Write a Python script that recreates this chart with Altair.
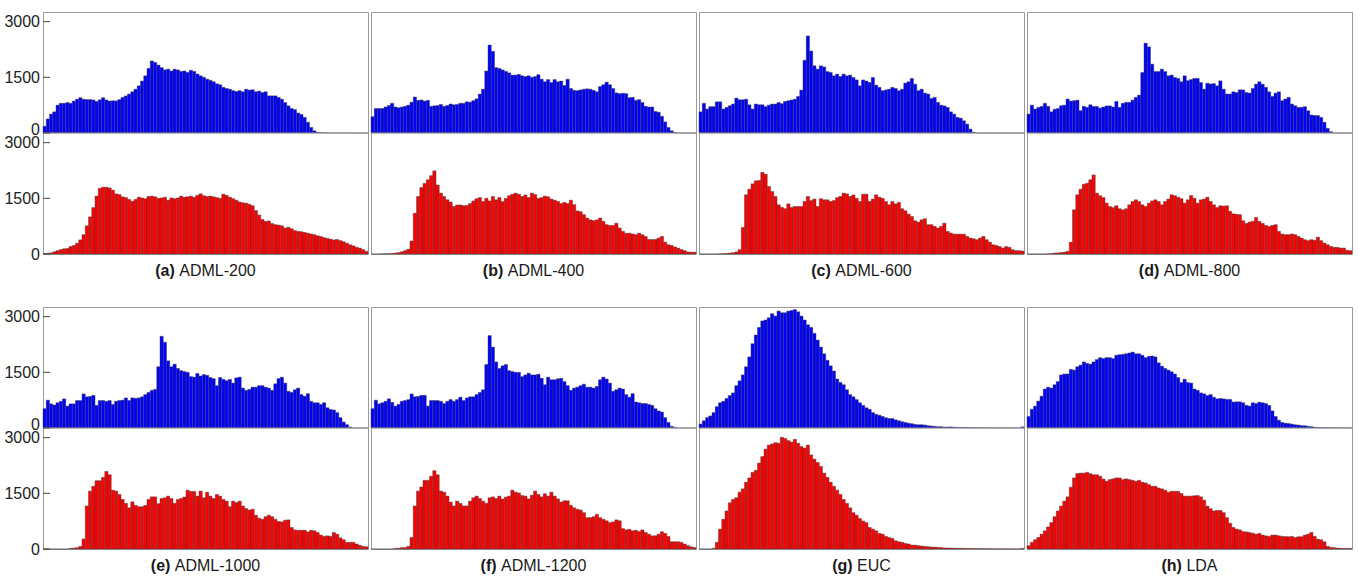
import altair as alt
import pandas as pd

# ---------------- data (counts per bin, 100 bins per histogram) ----------------
a_blue = [180, 380, 510, 570, 750, 800, 800, 820, 800, 860,
          910, 950, 910, 900, 900, 890, 850, 895, 950, 890,
          860, 870, 865, 900, 960, 1000, 1050, 1110, 1180, 1270,
          1400, 1540, 1740, 1940, 1900, 1830, 1760, 1700, 1720, 1670,
          1720, 1700, 1660, 1670, 1630, 1690, 1660, 1590, 1540, 1500,
          1450, 1420, 1380, 1325, 1300, 1230, 1200, 1180, 1140, 1120,
          1140, 1110, 1180, 1155, 1165, 1110, 1130, 1090, 1110, 1000,
          1000, 1000, 960, 910, 820, 730, 660, 630, 540, 500,
          420, 290, 150, 60, 20, 10, 5, 3, 2, 1,
          1, 1, 1, 0, 0, 0, 0, 0, 0, 0]
a_red = [10, 20, 30, 60, 90, 120, 140, 150, 200, 230,
         290, 380, 520, 760, 1000, 1250, 1560, 1770, 1800, 1800,
         1780, 1720, 1620, 1600, 1540, 1520, 1470, 1420, 1470, 1530,
         1510, 1490, 1550, 1560, 1540, 1500, 1510, 1530, 1450, 1510,
         1490, 1510, 1560, 1530, 1540, 1560, 1530, 1580, 1620, 1570,
         1550, 1560, 1540, 1520, 1500, 1610, 1580, 1530, 1490, 1450,
         1400, 1380, 1370, 1340, 1300, 1170, 1050, 930, 880, 890,
         820, 790, 780, 760, 700, 720, 680, 630, 610, 600,
         580, 560, 540, 520, 490, 470, 440, 420, 400, 380,
         390, 360, 330, 290, 250, 220, 180, 160, 120, 70]
b_blue = [440, 660, 660, 660, 700, 740, 800, 700, 680, 700,
          720, 750, 830, 970, 880, 890, 860, 880, 720, 730,
          740, 770, 720, 740, 780, 760, 770, 800, 800, 840,
          830, 870, 920, 1050, 1180, 1670, 2370, 2200, 1760, 1740,
          1700, 1660, 1620, 1560, 1560, 1580, 1540, 1520, 1540, 1500,
          1520, 1570, 1450, 1380, 1440, 1360, 1440, 1380, 1400, 1280,
          1450, 1200, 1150, 1140, 1160, 1180, 1190, 1180, 1150, 1110,
          1250, 1300, 1370, 1300, 1200, 1080, 1060, 1070, 1060, 950,
          960, 880, 900, 820, 720, 700, 700, 580, 560, 450,
          300, 150, 60, 15, 0, 0, 0, 0, 0, 0]
b_red = [0, 0, 0, 5, 8, 10, 15, 25, 35, 60,
         90, 130, 350, 1100, 1550, 1790, 1900, 2000, 2110, 2240,
         1860, 1640, 1550, 1460, 1400, 1280, 1320, 1320, 1300, 1310,
         1360, 1430, 1490, 1520, 1415, 1500, 1430, 1550, 1460, 1520,
         1410, 1500, 1570, 1610, 1640, 1610, 1550, 1590, 1520, 1640,
         1600, 1500, 1520, 1560, 1540, 1480, 1450, 1420, 1360, 1390,
         1360, 1450, 1330, 1160, 1140, 1060, 970, 920, 900, 920,
         970, 880, 790, 770, 770, 830, 700, 610, 560, 560,
         540, 520, 560, 520, 470, 390, 390, 390, 430, 475,
         320, 250, 230, 190, 160, 120, 90, 55, 50, 50]
c_blue = [570, 800, 645, 710, 710, 840, 840, 645, 690, 735,
          780, 940, 895, 895, 910, 760, 645, 780, 760, 760,
          710, 750, 780, 780, 820, 790, 850, 870, 890, 910,
          985, 1155, 1960, 2615, 2210, 1810, 1720, 1810, 1780, 1655,
          1630, 1540, 1585, 1520, 1585, 1540, 1560, 1495, 1430, 1270,
          1430, 1400, 1360, 1495, 1290, 1230, 1140, 1160, 1180, 1230,
          1200, 1140, 1180, 1345, 1380, 1470, 1315, 1140, 1180, 1075,
          1050, 930, 960, 825, 750, 730, 690, 570, 510, 420,
          400, 330, 240, 105, 20, 0, 0, 0, 0, 0,
          0, 0, 0, 0, 0, 0, 0, 0, 0, 0]
c_red = [0, 0, 0, 0, 0, 0, 5, 10, 15, 25,
         35, 55, 115, 715, 1595, 1745, 1890, 1970, 1980, 2200,
         2150, 1820, 1685, 1550, 1325, 1255, 1220, 1350, 1255, 1280,
         1280, 1280, 1415, 1550, 1440, 1480, 1280, 1490, 1460, 1460,
         1415, 1440, 1520, 1550, 1640, 1620, 1550, 1590, 1500, 1415,
         1610, 1610, 1415, 1480, 1595, 1530, 1500, 1415, 1325, 1415,
         1350, 1390, 1220, 1165, 1075, 1010, 895, 860, 920, 950,
         790, 790, 745, 700, 745, 830, 610, 565, 535, 535,
         535, 535, 475, 430, 410, 385, 430, 475, 385, 320,
         250, 230, 200, 160, 200, 180, 115, 90, 90, 80]
d_blue = [510, 750, 645, 690, 715, 800, 720, 570, 640, 660,
          735, 750, 915, 860, 870, 885, 600, 720, 690, 760,
          715, 715, 670, 700, 730, 730, 700, 850, 690, 800,
          825, 825, 885, 960, 1020, 1630, 2420, 2320, 1855, 1655,
          1655, 1720, 1655, 1540, 1560, 1495, 1470, 1380, 1540, 1410,
          1440, 1470, 1470, 1360, 1180, 1340, 1320, 1330, 1270, 1405,
          1180, 1050, 1050, 1110, 1090, 1165, 1160, 1090, 1075, 1200,
          1315, 1380, 1315, 1230, 1110, 985, 1075, 1110, 870, 915,
          960, 780, 735, 690, 690, 710, 600, 485, 470, 470,
          420, 290, 125, 35, 0, 0, 0, 0, 0, 0]
d_red = [0, 0, 0, 0, 0, 0, 5, 10, 25, 30,
         40, 50, 70, 320, 1190, 1595, 1745, 1880, 1905, 2000,
         2130, 1640, 1570, 1520, 1370, 1280, 1250, 1300, 1220, 1190,
         1220, 1325, 1415, 1460, 1415, 1325, 1280, 1370, 1430, 1460,
         1415, 1325, 1415, 1480, 1595, 1570, 1530, 1490, 1370, 1460,
         1575, 1500, 1370, 1460, 1480, 1530, 1415, 1325, 1250, 1300,
         1290, 1300, 1150, 1080, 1070, 1060, 895, 825, 860, 880,
         985, 880, 825, 770, 740, 770, 790, 610, 540, 520,
         520, 540, 520, 475, 430, 385, 360, 385, 370, 455,
         360, 295, 250, 205, 180, 180, 160, 160, 100, 90]
e_blue = [520, 750, 650, 620, 680, 720, 785, 590, 650, 650,
          740, 740, 917, 840, 850, 880, 610, 740, 740, 720,
          740, 635, 720, 740, 750, 810, 740, 810, 800, 810,
          840, 900, 960, 1015, 1040, 1650, 2470, 2310, 1810, 1650,
          1720, 1605, 1545, 1520, 1500, 1385, 1370, 1470, 1400, 1440,
          1420, 1360, 1330, 1140, 1360, 1310, 1275, 1310, 1210, 1350,
          1370, 1075, 1015, 1040, 1100, 1100, 1140, 1140, 1100, 1075,
          1015, 1190, 1330, 1370, 1210, 990, 960, 1030, 1075, 900,
          855, 925, 720, 680, 680, 635, 680, 545, 500, 485,
          415, 280, 160, 90, 25, 0, 0, 0, 0, 0]
e_red = [0, 0, 0, 0, 0, 0, 0, 0, 18, 25,
         35, 70, 270, 1160, 1560, 1690, 1840, 1840, 1930, 2090,
         2000, 1585, 1560, 1470, 1335, 1230, 1110, 1270, 1175, 1140,
         1140, 1175, 1335, 1405, 1405, 1220, 1360, 1380, 1425, 1360,
         1230, 1335, 1360, 1400, 1585, 1550, 1550, 1425, 1560, 1380,
         1530, 1425, 1360, 1470, 1425, 1335, 1290, 1140, 1290, 1250,
         1290, 1160, 1090, 1050, 1070, 910, 830, 800, 870, 910,
         870, 800, 740, 730, 775, 785, 580, 515, 505, 505,
         505, 460, 505, 490, 445, 375, 340, 355, 340, 445,
         400, 300, 250, 180, 180, 180, 135, 100, 70, 60]
f_blue = [520, 750, 650, 680, 720, 785, 690, 590, 635, 720,
          740, 765, 917, 840, 850, 880, 880, 590, 740, 740,
          740, 720, 660, 720, 765, 720, 765, 830, 740, 810,
          840, 840, 900, 960, 1030, 1710, 2490, 2180, 1780, 1605,
          1675, 1710, 1545, 1520, 1500, 1500, 1385, 1430, 1475, 1430,
          1430, 1450, 1340, 1165, 1370, 1300, 1300, 1325, 1340, 1250,
          1140, 1015, 1075, 1100, 1140, 1180, 1100, 1100, 1075, 1120,
          1300, 1370, 1320, 1210, 990, 1030, 1075, 1050, 900, 830,
          925, 700, 680, 660, 660, 635, 610, 520, 460, 430,
          280, 150, 45, 18, 0, 0, 0, 0, 0, 0]
f_red = [0, 0, 0, 0, 0, 0, 0, 15, 20, 35,
         40, 70, 310, 1160, 1560, 1670, 1850, 1850, 1960, 2110,
         2000, 1560, 1530, 1425, 1265, 1160, 1290, 1230, 1160, 1160,
         1290, 1380, 1425, 1360, 1290, 1230, 1380, 1405, 1360, 1425,
         1345, 1400, 1425, 1585, 1530, 1510, 1440, 1425, 1350, 1450,
         1560, 1470, 1405, 1490, 1425, 1530, 1425, 1350, 1265, 1300,
         1300, 1175, 1110, 1070, 1050, 980, 845, 845, 870, 935,
         845, 800, 760, 710, 730, 785, 760, 550, 515, 530,
         490, 505, 470, 515, 445, 400, 355, 355, 400, 465,
         420, 340, 195, 195, 195, 180, 135, 90, 60, 40]
g_blue = [105, 195, 280, 325, 415, 575, 680, 720, 795, 875,
          945, 1140, 1270, 1430, 1650, 1915, 2270, 2505, 2710, 2885,
          2910, 2970, 3080, 3015, 3150, 3105, 3105, 3150, 3165, 3190,
          3130, 3015, 2910, 2780, 2710, 2550, 2370, 2180, 2000, 1825,
          1675, 1535, 1320, 1225, 1165, 1030, 900, 840, 765, 680,
          610, 545, 505, 415, 370, 345, 310, 275, 255, 255,
          220, 195, 170, 150, 130, 115, 97, 88, 88, 80,
          62, 53, 45, 35, 35, 26, 26, 30, 20, 18,
          15, 14, 12, 10, 10, 8, 8, 7, 6, 5,
          5, 4, 4, 3, 3, 3, 2, 2, 2, 30]
g_red = [0, 0, 0, 0, 18, 180, 535, 800, 1025, 1245,
         1335, 1380, 1530, 1620, 1800, 1915, 2065, 2120, 2315, 2490,
         2690, 2800, 2830, 2865, 2850, 3010, 2980, 2920, 2880, 2955,
         2850, 2760, 2720, 2800, 2535, 2420, 2330, 2225, 2045, 1930,
         1800, 1690, 1585, 1470, 1335, 1230, 1110, 980, 910, 820,
         755, 710, 580, 535, 490, 420, 400, 340, 310, 285,
         220, 195, 180, 150, 135, 105, 105, 90, 80, 70,
         62, 53, 50, 45, 40, 27, 27, 25, 22, 20,
         18, 16, 15, 14, 12, 10, 10, 9, 8, 7,
         6, 6, 5, 5, 4, 4, 4, 3, 3, 15]
h_blue = [310, 505, 590, 725, 855, 1050, 1100, 1075, 1165, 1250,
          1430, 1455, 1455, 1580, 1560, 1650, 1695, 1780, 1740, 1720,
          1780, 1845, 1895, 1870, 1895, 1895, 1870, 1960, 1975, 1985,
          2000, 2020, 2045, 2000, 2000, 1960, 1895, 1930, 1940, 1915,
          1755, 1665, 1605, 1560, 1515, 1455, 1360, 1225, 1315, 1225,
          1210, 1050, 1015, 945, 920, 875, 900, 830, 785, 795,
          785, 770, 770, 700, 705, 705, 680, 610, 590, 680,
          660, 695, 680, 660, 610, 460, 310, 210, 150, 130,
          120, 105, 88, 80, 62, 62, 45, 35, 20, 15,
          12, 10, 8, 7, 6, 5, 5, 4, 3, 3]
h_red = [90, 180, 250, 310, 400, 490, 595, 710, 870, 1025,
         1155, 1290, 1405, 1665, 1915, 2030, 2045, 2045, 2065, 2030,
         2000, 2000, 1960, 1885, 1825, 1870, 1890, 1915, 1915, 1870,
         1890, 1870, 1850, 1825, 1850, 1800, 1780, 1735, 1690, 1690,
         1645, 1620, 1585, 1530, 1555, 1555, 1555, 1495, 1425, 1425,
         1425, 1435, 1440, 1405, 1315, 1155, 1085, 1025, 1040, 1040,
         980, 845, 695, 580, 535, 515, 470, 460, 445, 425,
         400, 420, 375, 355, 340, 375, 375, 355, 340, 335,
         330, 340, 310, 330, 330, 375, 400, 445, 340, 265,
         250, 195, 70, 45, 35, 25, 18, 18, 15, 15]

panel_tags = ["(a)", "(b)", "(c)", "(d)", "(e)", "(f)", "(g)", "(h)"]
panel_names = ["ADML-200", "ADML-400", "ADML-600", "ADML-800",
               "ADML-1000", "ADML-1200", "EUC", "LDA"]
blue_series = [a_blue, b_blue, c_blue, d_blue, e_blue, f_blue, g_blue, h_blue]
red_series = [a_red, b_red, c_red, d_red, e_red, f_red, g_red, h_red]
tick_values = [0, 1500, 3000]

# ---------------- styling ----------------
FONT = "Liberation Sans"
W = 325
HALF = 121           # pixel height of each of the two stacked histograms
YMAX = 3260          # count shown by one half's full height
BLUE = "#0000ff"
RED = "#ff0000"
FRAME = "#9a9a9a"
FS = 16

# Arial / Liberation Sans advance widths (per 1000 em) for caption centring
REG = {' ': 278, '(': 333, ')': 333, '-': 333, 'A': 667, 'D': 722, 'M': 833,
       'L': 556, 'E': 667, 'U': 722, 'C': 722}
for ch in "0123456789":
    REG[ch] = 556
BOLD = {'(': 333, ')': 333, 'a': 556, 'b': 611, 'c': 556, 'd': 611, 'e': 556,
        'f': 333, 'g': 611, 'h': 611}


def text_w(s, table):
    return sum(table.get(c, 556) for c in s) * FS / 1000.0


# both halves share one y scale: the blue histogram sits on top of the red one
axis_vals = tick_values + [YMAX + v for v in tick_values]
label_expr = "'' + (datum.value >= %d ? datum.value - %d : datum.value)" % (YMAX, YMAX)
yscale = alt.Scale(domain=[0, 2 * YMAX], nice=False, zero=True)


def panel(i):
    first_col = (i % 4 == 0)
    if first_col:
        yaxis = alt.Axis(values=axis_vals, labelExpr=label_expr, ticks=False,
                         domain=False, grid=False, labelFontSize=FS,
                         labelFont=FONT, labelColor="#222222", labelPadding=3.5,
                         labelOffset={"condition": {"test": "datum.value == %d" % YMAX,
                                                    "value": -4},
                                      "value": 0},
                         labelFlush=False, labelOverlap=False, title=None)
    else:
        yaxis = None
    xenc = alt.X("bin:O", axis=None, scale=alt.Scale(paddingInner=0, paddingOuter=0))

    bl = blue_series[i]
    rd = red_series[i]
    df_b = pd.DataFrame({"bin": list(range(len(bl))),
                         "lo": [YMAX] * len(bl),
                         "hi": [YMAX + v for v in bl]})
    df_r = pd.DataFrame({"bin": list(range(len(rd))),
                         "lo": [0] * len(rd),
                         "hi": rd})
    bar_style = dict(stroke="#404040", strokeWidth=0.5, strokeOpacity=0.9)
    blue = alt.Chart(df_b).mark_bar(color=BLUE, **bar_style).encode(
        x=xenc, y=alt.Y("hi:Q", axis=yaxis, scale=yscale), y2="lo:Q")
    red = alt.Chart(df_r).mark_bar(color=RED, **bar_style).encode(
        x=xenc, y=alt.Y("hi:Q", axis=yaxis, scale=yscale), y2="lo:Q")

    sep = alt.Chart(pd.DataFrame({"hi": [YMAX]})).mark_rule(
        color=FRAME, strokeWidth=1).encode(
        y=alt.Y("hi:Q", axis=yaxis, scale=yscale),
        x=alt.value(0), x2=alt.value(W))
    layers = [blue, red, sep]

    if first_col:
        tdf = pd.DataFrame({"hi": axis_vals})
        ticks = alt.Chart(tdf).mark_rule(color="#444444", strokeWidth=1).encode(
            y=alt.Y("hi:Q", axis=yaxis, scale=yscale),
            x=alt.value(0), x2=alt.value(7))
        layers.append(ticks)

    tag, name = panel_tags[i], panel_names[i]
    wb = text_w(tag, BOLD)
    ws = text_w(" ", REG)
    wr = text_w(name, REG)
    start = W / 2.0 - (wb + ws + wr) / 2.0
    one = pd.DataFrame({"k": [0]})
    cy = 2 * HALF + 16.5
    t1 = alt.Chart(one).mark_text(
        text=tag, align="left", baseline="middle", font=FONT,
        fontSize=FS, fontWeight="bold", color="#1a1a1a"
    ).encode(x=alt.value(start), y=alt.value(cy))
    t2 = alt.Chart(one).mark_text(
        text=name, align="left", baseline="middle", font=FONT,
        fontSize=FS, color="#1a1a1a"
    ).encode(x=alt.value(start + wb + ws), y=alt.value(cy))
    layers += [t1, t2]
    return alt.layer(*layers).properties(width=W, height=2 * HALF)


row1 = alt.hconcat(*[panel(i) for i in range(4)], spacing=1)
row2 = alt.hconcat(*[panel(i) for i in range(4, 8)], spacing=1)

chart = alt.vconcat(row1, row2, spacing=27).properties(
    padding={"left": 3, "top": 11, "right": 0, "bottom": 0},
    background="white",
).configure_view(
    stroke=FRAME, strokeWidth=1
)

chart.save("out.html", embed_options={"renderer": "svg", "actions": False})
